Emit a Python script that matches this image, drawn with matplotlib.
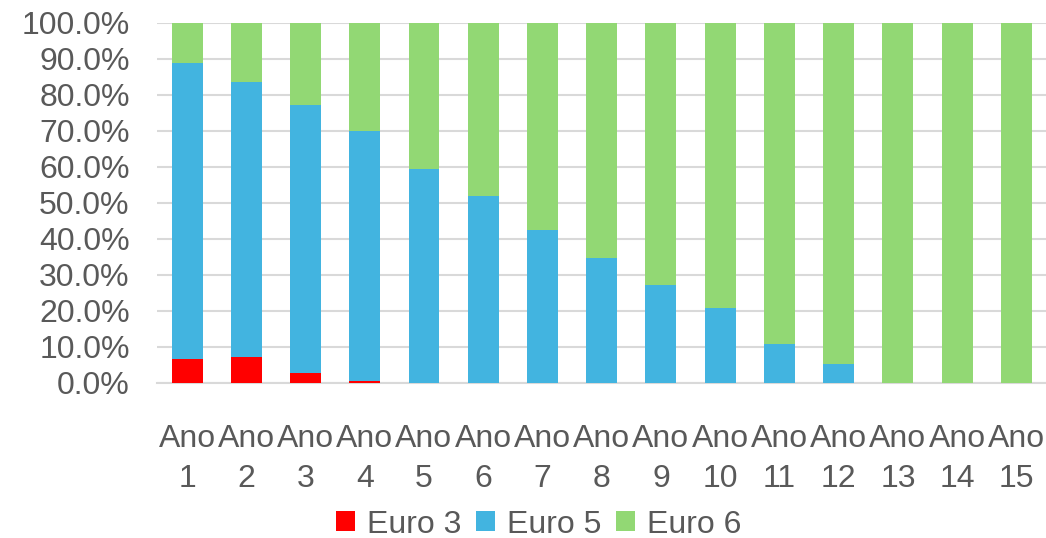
import matplotlib.pyplot as plt
import numpy as np
from matplotlib.ticker import PercentFormatter

plt.rcParams['font.family'] = ['Liberation Sans', 'DejaVu Sans']

anos = ['Ano\n%d' % i for i in range(1, 16)]
euro3 = [6.7, 7.0, 2.8, 0.4, 0, 0, 0, 0, 0, 0, 0, 0, 0, 0, 0]
euro5 = [82.1, 76.5, 74.3, 69.4, 59.4, 51.9, 42.4, 34.6, 27.1, 20.7, 10.7, 5.2, 0, 0, 0]
euro6 = [100 - a - b for a, b in zip(euro3, euro5)]

cor_txt = '#595959'
fs = 23
fig = plt.figure(figsize=(10.46, 5.38), dpi=100)
ax = fig.add_axes([0.1505, 0.2887, 0.8495, 0.669])

x = np.arange(len(anos))
w = 0.523
ax.bar(x, euro3, w, color='#FF0000', label='Euro 3', zorder=3)
ax.bar(x, euro5, w, bottom=euro3, color='#42B4E0', label='Euro 5', zorder=3)
ax.bar(x, euro6, w, bottom=np.array(euro3) + np.array(euro5), color='#92D874', label='Euro 6', zorder=3)

ax.set_xlim(-0.5, len(anos) - 0.5)
ax.set_ylim(0, 100)
ax.set_yticks(np.arange(0, 101, 10))
ax.yaxis.set_major_formatter(PercentFormatter(decimals=1))
ax.set_xticks(x)
ax.set_xticklabels(anos, linespacing=1.4)
ax.grid(axis='y', color='#D9D9D9', linewidth=1.5, zorder=0)
for s in ['top', 'right', 'left']:
    ax.spines[s].set_visible(False)
ax.spines['bottom'].set_color('#D9D9D9')
ax.spines['bottom'].set_linewidth(1.5)
ax.tick_params(axis='y', length=0, pad=20, labelsize=fs, labelcolor=cor_txt)
ax.tick_params(axis='x', length=0, pad=30, labelsize=fs, labelcolor=cor_txt)

fig.legend(loc='center', bbox_to_anchor=(0.515, 0.025), ncol=3, frameon=False,
           fontsize=fs, labelcolor=cor_txt, handlelength=0.6, handleheight=0.6,
           handletextpad=0.38, columnspacing=0.44, borderpad=0, borderaxespad=0)

fig.savefig('out.png', dpi=100)
